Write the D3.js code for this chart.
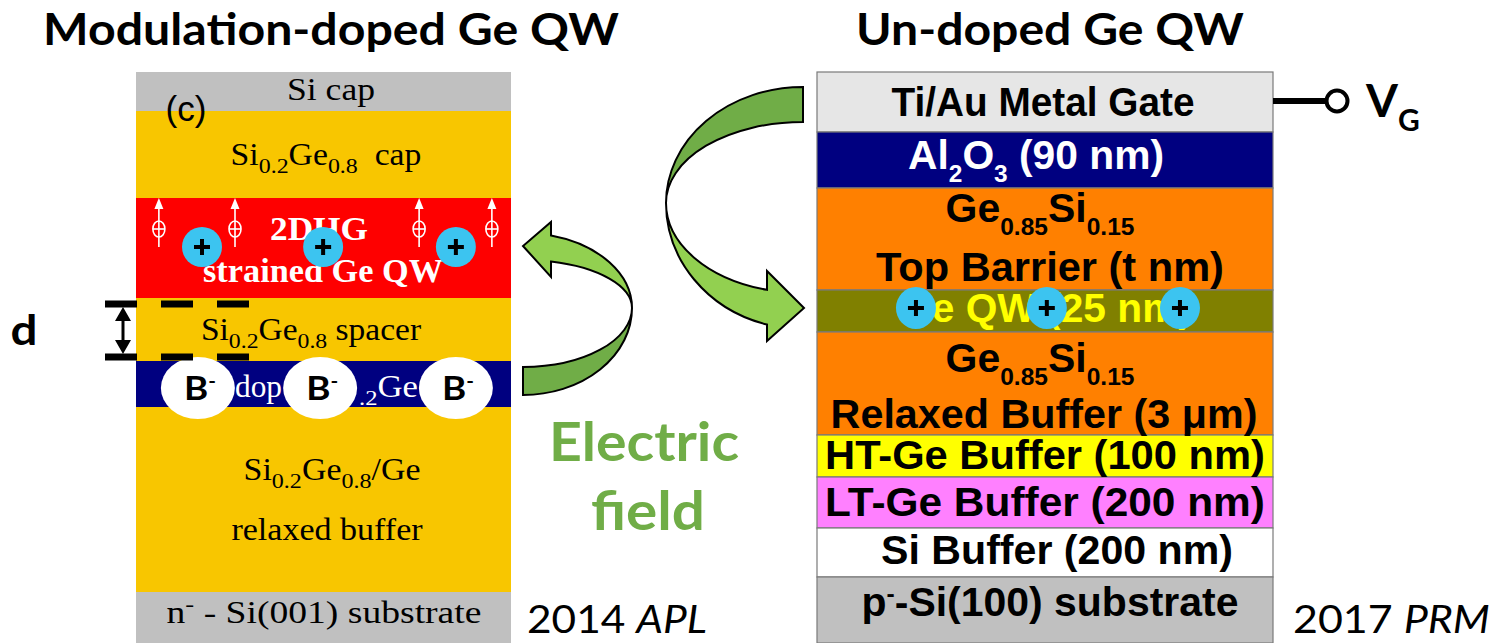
<!DOCTYPE html>
<html><head><meta charset="utf-8">
<script src="https://cdn.jsdelivr.net/npm/d3@7"></script>
<style>html,body{margin:0;padding:0;background:#fff;overflow:hidden} text{white-space:pre}</style>
</head><body><svg id="c" width="1504" height="643" xmlns="http://www.w3.org/2000/svg"></svg>
<script>
// ---------------- DATA ----------------
const titles = ["Modulation-doped Ge QW", "Un-doped Ge QW"];
const leftLayerNames = ["Si cap", "Si0.2Ge0.8 cap", "strained Ge QW", "Si0.2Ge0.8 spacer", "B-doped Si0.2Ge0.8", "Si0.2Ge0.8/Ge relaxed buffer", "n- Si(001) substrate"];
const leftLayerThickness = [39, 87, 100, 63, 46, 185, 51];
const rightLayerNames = ["Ti/Au Metal Gate", "Al2O3", "Ge0.85Si0.15 top barrier", "Ge QW", "Ge0.85Si0.15 relaxed buffer", "HT-Ge buffer", "LT-Ge buffer", "Si buffer", "p- Si(100) substrate"];
const rightLayerThickness = [60, 56, 102, 42, 103, 42, 51, 49, 66];
// label lines (rich text: _{sub}, ^{sup}); the doped-layer label is only partly visible between the B- ions
const leftLabels = ["Si cap", "(c)", "Si_{0.2}Ge_{0.8}  cap", "2DHG", "strained Ge QW", "Si_{0.2}Ge_{0.8} spacer", "dop", "_{.2}Ge", "Si_{0.2}Ge_{0.8}/Ge", "relaxed buffer", "n^{-} - Si(001) substrate"];
const rightLabels = ["Ti/Au Metal Gate", "Al_{2}O_{3} (90 nm)", "Ge_{0.85}Si_{0.15}", "Top Barrier (t nm)", "Ge QW (25 nm)", "Ge_{0.85}Si_{0.15}", "Relaxed Buffer (3 \u03bcm)", "HT-Ge Buffer (100 nm)", "LT-Ge Buffer (200 nm)", "Si Buffer (200 nm)", "p^{-}-Si(100) substrate"];
// charge positions, as fraction across each stack
const leftHoles = [0.176, 0.499, 0.853];
const leftAcceptors = [0.165, 0.491, 0.853];
const leftHoleSymbols = [0.061, 0.264, 0.755, 0.949];
const rightHoles = [0.217, 0.504, 0.796];
const acceptorLabel = "B^{-}";
const fieldLabel = ["Electric", "field"];
const refs = [["2014 ", "APL"], ["2017 ", "PRM"]];
const gateLabel = "V_{G}";
const spacerLabel = "d";

// ---------------- STYLE / LAYOUT ----------------
const W = 1504, H = 643;
const svg = d3.select("#c");
const serif = "'Liberation Serif', 'Times New Roman', serif";
const arial = "'Liberation Sans', Arial, sans-serif";
const cal = "Lato, 'Open Sans', sans-serif";
const leftColors = ["#c0c0c0", "#f8c600", "#fe0000", "#f8c600", "#000080", "#f8c600", "#c0c0c0"];
const rightColors = ["#e6e6e6", "#000080", "#ff8000", "#808000", "#ff8000", "#ffff00", "#ff80ff", "#ffffff", "#c0c0c0"];
const cyan = "#3cc4f0";
const green = "#70ad47", lightGreen = "#92d050";

const xL = d3.scaleLinear().domain([0, 1]).range([136, 511]);
const xR = d3.scaleLinear().domain([0, 1]).range([817, 1273]);
const yL = d3.scaleLinear().domain([0, d3.sum(leftLayerThickness)]).range([72, H]);
const yR = d3.scaleLinear().domain([0, d3.sum(rightLayerThickness)]).range([72, H]);
const cumL = [0, ...d3.cumsum(leftLayerThickness)];
const cumR = [0, ...d3.cumsum(rightLayerThickness)];

function parseRich(s) {
  return s.split(/(_\{[^}]*\}|\^\{[^}]*\})/).filter(d => d !== "").map(p => {
    if (p.startsWith("_{")) return [p.slice(2, -1), "sub"];
    if (p.startsWith("^{")) return [p.slice(2, -1), "sup"];
    return [p, "n"];
  });
}
function richText(parent, str, o) {
  const g = parent.append("g");
  const t = g.append("text")
    .attr("text-anchor", o.anchor || "middle")
    .attr("font-family", o.family)
    .attr("font-size", o.size)
    .attr("font-weight", o.weight || "normal")
    .attr("fill", o.fill || "#000");
  let cur = 0;
  const parts = Array.isArray(str) ? str : parseRich(str);
  parts.forEach(([s, k]) => {
    let shift = 0, size = o.size;
    if (k === "sub") { shift = o.subShift ?? o.size * 0.33; size = o.subSize ?? o.size * 0.65; }
    if (k === "sup") { shift = -(o.supShift ?? o.size * 0.35); size = o.subSize ?? o.size * 0.65; }
    const ts = t.append("tspan").attr("dy", shift - cur).attr("font-size", size).text(s);
    if (k === "i") ts.attr("font-style", "italic");
    cur = shift;
  });
  let sx = 1;
  if (o.w) { const bw = t.node().getBBox().width; sx = o.w / bw; }
  g.attr("transform", `translate(${o.x},${o.y}) scale(${sx},1)`);
  return g;
}

// ---------------- LEFT STACK ----------------
const gl = svg.append("g");
gl.selectAll("rect").data(leftLayerThickness).join("rect")
  .attr("x", xL(0)).attr("width", xL(1) - xL(0))
  .attr("y", (d, i) => yL(cumL[i])).attr("height", d => yL(d) - yL(0))
  .attr("fill", (d, i) => leftColors[i]);

const serifO = { family: serif, size: 31, subSize: 22, subShift: 8, supShift: 12 };
const leftLayout = [
  { x: 331, y: 100, w: 88 },
  { x: 186, y: 121, w: 41, size: 36, family: arial },
  { x: 326, y: 165, w: 191 },
  { x: 319, y: 240, w: 98, weight: "bold", fill: "#fff", size: 33 },
  { x: 323, y: 282, w: 240, weight: "bold", fill: "#fff", size: 33 },
  { x: 311, y: 340, w: 221 },
  { x: 235, y: 397, w: 47, fill: "#fff", anchor: "start" },
  { x: 359, y: 397, w: 59, fill: "#fff", anchor: "start" },
  { x: 332, y: 480, w: 177 },
  { x: 327, y: 540, w: 192 },
  { x: 324, y: 623, w: 315 }
];
leftLabels.forEach((s, i) => richText(gl, s, Object.assign({}, serifO, leftLayout[i])));

// hole symbols (circled plus with arrow) in QW
const hs = gl.selectAll("g.hs").data(leftHoleSymbols).join("g").attr("class", "hs")
  .attr("transform", d => `translate(${xL(d)},0)`);
hs.append("line").attr("x1", 0).attr("x2", 0).attr("y1", 206).attr("y2", 247).attr("stroke", "#fff").attr("stroke-width", 1.6);
hs.append("path").attr("d", "M-4.5,209 L0,198 L4.5,209 Z").attr("fill", "#fff");
hs.append("ellipse").attr("cx", 0).attr("cy", 229).attr("rx", 6).attr("ry", 8).attr("fill", "none").attr("stroke", "#fff").attr("stroke-width", 1.6);
hs.append("line").attr("x1", -6).attr("x2", 6).attr("y1", 229).attr("y2", 229).attr("stroke", "#fff").attr("stroke-width", 1.6);

function cyanHoles(parent, data, xs, cy, rx, ry) {
  const g = parent.selectAll(null).data(data).join("g").attr("transform", d => `translate(${xs(d)},${cy})`);
  g.append("ellipse").attr("rx", rx).attr("ry", ry).attr("fill", cyan);
  g.append("path").attr("d", "M-8,0 H8 M0,-8 V8").attr("stroke", "#000").attr("stroke-width", 4);
}
cyanHoles(gl, leftHoles, xL, 247, 20, 20);

// acceptors
const ac = gl.selectAll("g.ac").data(leftAcceptors).join("g").attr("class", "ac");
ac.append("ellipse").attr("cx", d => xL(d)).attr("cy", 388).attr("rx", 37).attr("ry", 31).attr("fill", "#fff");
leftAcceptors.forEach(d => richText(gl, acceptorLabel, { family: cal, weight: "bold", size: 32, subSize: 18, supShift: 12, x: xL(d) + 2, y: 400, w: 32 }));

// spacer thickness marker
const dm = svg.append("g");
[304, 357].forEach(y => {
  dm.append("line").attr("x1", 105).attr("x2", 249).attr("y1", y).attr("y2", y)
    .attr("stroke", "#000").attr("stroke-width", 7).attr("stroke-dasharray", "32 24");
});
dm.append("line").attr("x1", 123).attr("x2", 123).attr("y1", 314).attr("y2", 347).attr("stroke", "#000").attr("stroke-width", 3);
dm.append("path").attr("d", "M123,307 L115,321 L131,321 Z M123,354 L115,340 L131,340 Z").attr("fill", "#000");
richText(svg, spacerLabel, { family: cal, weight: "bold", size: 42, x: 24, y: 345, w: 27 });

// ---------------- RIGHT STACK ----------------
const gr = svg.append("g");
gr.selectAll("rect").data(rightLayerThickness).join("rect")
  .attr("x", xR(0)).attr("width", xR(1) - xR(0))
  .attr("y", (d, i) => yR(cumR[i])).attr("height", d => yR(d) - yR(0))
  .attr("fill", (d, i) => rightColors[i])
  .attr("stroke", "#7a7a7a").attr("stroke-width", 1.2);

const arialO = { family: arial, weight: "bold", size: 40, subSize: 24, subShift: 13, supShift: 14 };
const rightLayout = [
  { x: 1043, y: 116, w: 303 },
  { x: 1036, y: 169, w: 256, fill: "#fff" },
  { x: 1040, y: 222, w: 189 },
  { x: 1050, y: 281, w: 348 },
  { x: 1046, y: 322, w: 292, fill: "#ffff00" },
  { x: 1040, y: 372, w: 189 },
  { x: 1044, y: 428, w: 427 },
  { x: 1045, y: 469, w: 440 },
  { x: 1045, y: 516, w: 440 },
  { x: 1057, y: 564, w: 352 },
  { x: 1050, y: 616, w: 377 }
];
rightLabels.forEach((s, i) => richText(gr, s, Object.assign({}, arialO, rightLayout[i])));
cyanHoles(gr, rightHoles, xR, 308, 20, 21);

// gate terminal
svg.append("line").attr("x1", 1273).attr("x2", 1326).attr("y1", 101).attr("y2", 101).attr("stroke", "#000").attr("stroke-width", 6);
svg.append("circle").attr("cx", 1337).attr("cy", 101).attr("r", 10.5).attr("fill", "#fff").attr("stroke", "#000").attr("stroke-width", 4);
richText(svg, gateLabel, { family: cal, weight: "bold", size: 46, subSize: 30, subShift: 14, anchor: "start", x: 1366, y: 117 });

// ---------------- TITLES & NOTES ----------------
richText(svg, titles[0], { family: cal, weight: "bold", size: 43, x: 331, y: 45, w: 576 });
richText(svg, titles[1], { family: cal, weight: "bold", size: 43, x: 1050, y: 45, w: 388 });
richText(svg, fieldLabel[0], { family: cal, weight: "bold", size: 54, fill: green, x: 644, y: 461, w: 190 });
richText(svg, fieldLabel[1], { family: cal, weight: "bold", size: 54, fill: green, x: 648, y: 530, w: 114 });
richText(svg, [[refs[0][0], "n"], [refs[0][1], "i"]], { family: cal, size: 38, anchor: "start", x: 527, y: 633, w: 180 });
richText(svg, [[refs[1][0], "n"], [refs[1][1], "i"]], { family: cal, size: 38, anchor: "start", x: 1293, y: 633, w: 197 });

// ---------------- CURVED ARROWS ----------------
function ellPt(cx, cy, rx, ry, x, sgn) {
  const t = (x - cx) / rx; return [x, cy + sgn * ry * Math.sqrt(Math.max(0, 1 - t * t))];
}
function curvedArrow(o) {
  const g = svg.append("g").attr("stroke", "#000").attr("stroke-width", 2).attr("stroke-linejoin", "miter");
  const ax = o.cx + o.dir * o.rx, ay = o.cy;
  const t = o.tail;
  const tOut = [o.cx, o.cy + t.sgn * t.rOut], tIn = [o.cx, o.cy + t.sgn * t.rIn];
  const s1 = (t.sgn * o.dir > 0) ? 0 : 1;
  const pTail = `M${tOut} A${o.rx},${t.rOut} 0 0 ${s1} ${ax},${ay} A${o.rx},${t.rIn} 0 0 ${1 - s1} ${tIn} Z`;
  g.append("path").attr("d", pTail).attr("fill", green);
  const h = o.head;
  const hOut = ellPt(o.cx, o.cy, o.rx, h.rOut, h.baseX, h.sgn);
  const hIn = ellPt(o.cx, o.cy, o.rx, h.rIn, h.baseX, h.sgn);
  const s2 = (h.sgn * o.dir > 0) ? 1 : 0;
  const pHead = `M${ax},${ay} A${o.rx},${h.rOut} 0 0 ${s2} ${hOut} L${h.baseX},${h.barbOut} L${h.tipX},${h.tipY} L${h.baseX},${h.barbIn} L${hIn} A${o.rx},${h.rIn} 0 0 ${1 - s2} ${ax},${ay} Z`;
  g.append("path").attr("d", pHead).attr("fill", lightGreen);
}
curvedArrow({ cx: 523, cy: 308, rx: 109, dir: 1,
  tail: { sgn: 1, rOut: 87, rIn: 59 },
  head: { sgn: -1, rOut: 75, rIn: 48, baseX: 551, barbOut: 222, barbIn: 277, tipX: 523, tipY: 246 } });
curvedArrow({ cx: 803, cy: 203, rx: 137, dir: -1,
  tail: { sgn: -1, rOut: 116, rIn: 81 },
  head: { sgn: 1, rOut: 126, rIn: 90, baseX: 767, barbOut: 341, barbIn: 271, tipX: 804, tipY: 308 } });
</script>
</body></html>
